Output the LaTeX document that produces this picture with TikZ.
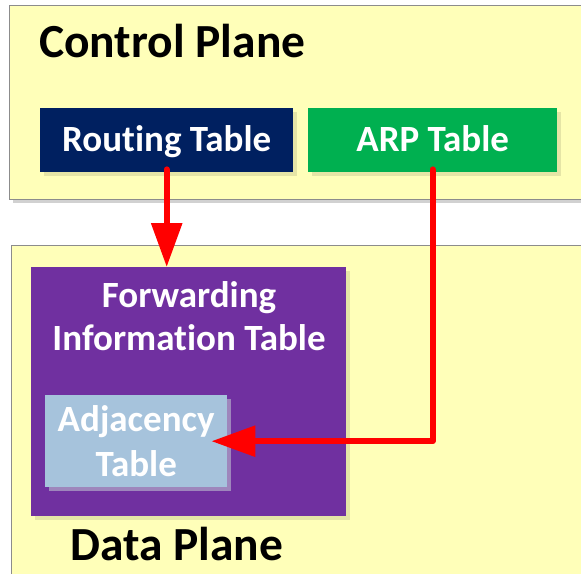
\documentclass[tikz,border=0pt]{standalone}
\usepackage{fontspec}
\setmainfont{Carlito}[Ligatures=NoCommon]
\usetikzlibrary{arrows.meta,shadows}
\definecolor{paneyellow}{HTML}{FFFFB9}
\definecolor{paneborder}{HTML}{8C8C8C}
\definecolor{navybox}{HTML}{002060}
\definecolor{greenbox}{HTML}{00B050}
\definecolor{purplebox}{HTML}{7030A0}
\definecolor{adjbox}{HTML}{A6C3DC}
\definecolor{adjshadow}{HTML}{9E86BC}
\definecolor{arrowred}{HTML}{FF0000}
\begin{document}
\begin{tikzpicture}[x=1pt,y=-1pt,
  pane/.style={draw=paneborder, line width=1.2pt, fill=paneyellow,
    general shadow={fill=black, opacity=0.18, shadow xshift=3pt, shadow yshift=-3pt}},
  tablebox/.style={draw=none, inner sep=0pt, anchor=north west, text=white,
    font=\bfseries\fontsize{37}{44}\selectfont,
    general shadow={fill=black, opacity=0.1, shadow xshift=4pt, shadow yshift=-4pt}},
  onelinetext/.style={text height=23.4pt, text depth=0pt},
  title/.style={inner sep=0pt, anchor=base west, font=\bfseries\fontsize{47.5}{52}\selectfont},
  flow/.style={draw=arrowred, line width=6pt, line cap=round, line join=round,
    -{Triangle[length=44pt,width=30pt]}}
]
\useasboundingbox (0,0) rectangle (581,573);
\clip (0,0) rectangle (581,573);
% panes
\node[pane, anchor=north west, minimum width=620pt, minimum height=194pt, inner sep=0pt] (cp) at (9,5) {};
\node[pane, anchor=north west, minimum width=620pt, minimum height=360pt, inner sep=0pt] (dp) at (11,245) {};
\node[title] (cptitle) at (39,57) {Control Plane};
\node[title] (dptitle) at (70,560) {Data Plane};
% control plane tables
\node[tablebox, onelinetext, fill=navybox, minimum width=253pt, minimum height=64pt] (rt) at (40,108) {Routing Table};
\node[tablebox, onelinetext, fill=greenbox, minimum width=249pt, minimum height=64pt] (arp) at (308,108) {ARP Table};
% data plane tables
\node[tablebox, fill=purplebox, minimum width=315pt, minimum height=249pt] (fit) at (31,267) {};
\node[inner sep=0pt, anchor=base, align=center, text=white, font=\bfseries\fontsize{37}{43}\selectfont] (fittext) at (189,350) {Forwarding\\Information Table};
\node[tablebox, align=center, fill=adjbox, minimum width=182pt, minimum height=92pt,
  font=\bfseries\fontsize{37}{45}\selectfont,
  general shadow={fill=adjshadow, opacity=1, shadow xshift=4pt, shadow yshift=-4pt}] (adj) at (45,395) {Adjacency\\Table};
% arrows
\draw[flow] ([yshift=3pt]rt.south) -- (rt.south |- fit.north);
\draw[flow] ([yshift=3pt]arp.south) |- ([xshift=-16pt]adj.east);
\end{tikzpicture}
\end{document}
